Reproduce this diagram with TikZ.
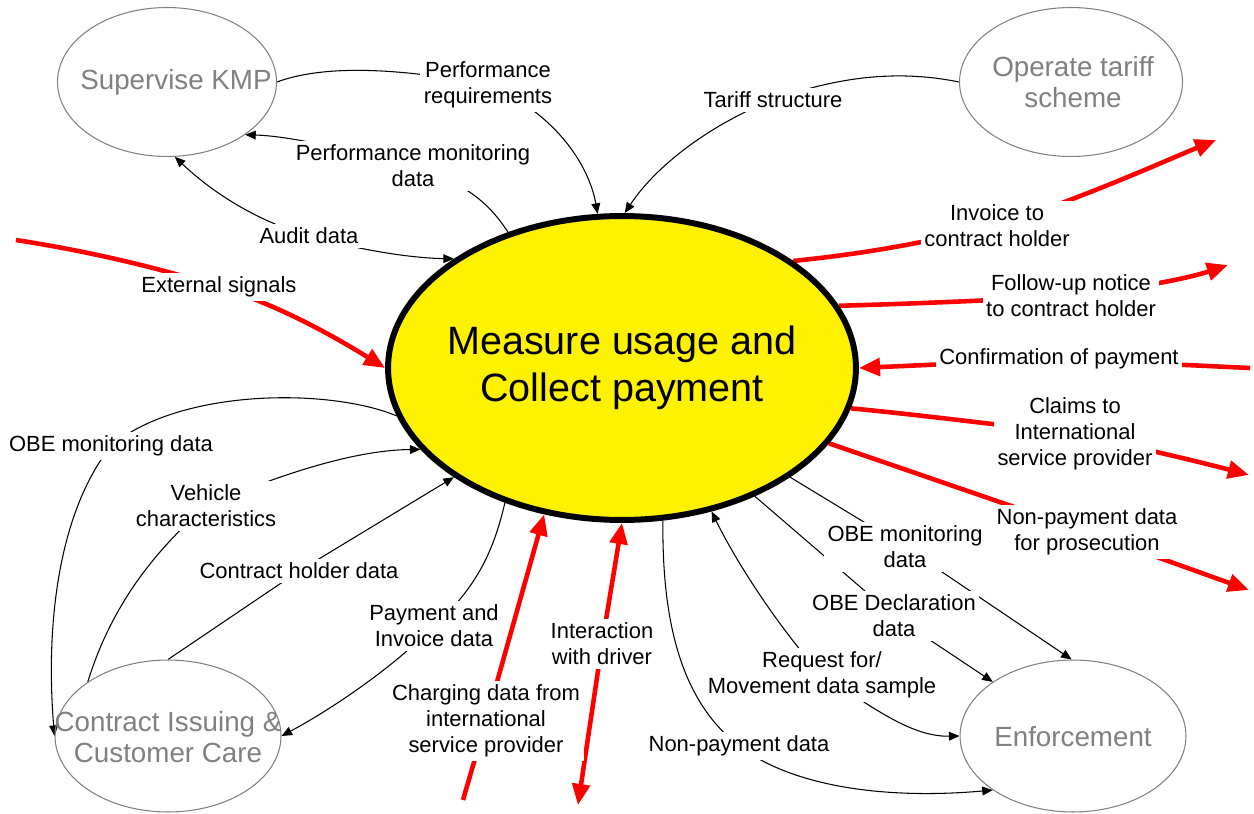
\documentclass[tikz,border=0pt]{standalone}
\usepackage{fontspec}
\setmainfont{Liberation Sans}
\usetikzlibrary{arrows.meta,shapes.geometric}
\definecolor{procgray}{RGB}{128,128,128}
\pgfdeclarelayer{edges}
\pgfsetlayers{edges,main}
\begin{document}
\begin{tikzpicture}[x=0.02cm,y=-0.02cm,
  lab/.style={fill=white, inner sep=2pt, align=center, font=\fontsize{12.5}{14.8}\selectfont},
  proc/.style={ellipse, draw=procgray, line width=0.6pt, inner sep=0pt},
  ptext/.style={text=procgray, align=center, inner sep=0pt, font=\fontsize{15.8}{17.6}\selectfont},
  maint/.style={align=center, inner sep=0pt, font=\fontsize{22.5}{27}\selectfont},
  flow/.style={draw=black, line width=0.6pt, >={Triangle[length=6pt,width=5pt]}},
  sig/.style={draw=red, line width=2.6pt, >={Triangle[length=12pt,width=10pt]}}
]
\useasboundingbox (0,0) rectangle (1254,814);

% processes
\node[proc, minimum width=4.38cm, minimum height=2.98cm] (kmp) at (167,82) {};
\node[proc, minimum width=4.46cm, minimum height=2.98cm] (op) at (1071,82) {};
\node[proc, minimum width=4.52cm, minimum height=3.04cm] (ct) at (168,736) {};
\node[proc, minimum width=4.52cm, minimum height=3.04cm] (enf) at (1073,736) {};
\node[ellipse, draw=black, fill=yellow, line width=3.4pt, inner sep=0pt,
      minimum width=9.36cm, minimum height=6.08cm] (main) at (622,368) {};

\node[ptext] (kmpT) at (176,82) {Supervise KMP};
\node[ptext] (opT) at (1073,82) {Operate tariff\\scheme};
\node[ptext] (ctT) at (168,737) {Contract Issuing \&\\Customer Care};
\node[ptext] (enfT) at (1073,737) {Enforcement};
\node[maint] (mainT) at (622,368) {Measure usage and\\Collect payment};

% labels
\node[lab] (pr) at (488,85) {Performance\\requirements};
\node[lab] (pmd) at (413,166) {Performance monitoring\\data};
\node[lab] (aud) at (309,236) {Audit data};
\node[lab] (tar) at (773,100) {Tariff structure};
\node[lab] (ext) at (219,287) {External signals};
\node[lab] (inv) at (997,226) {Invoice to\\contract holder};
\node[lab] (fol) at (1071,296) {Follow-up notice\\to contract holder};
\node[lab] (conf) at (1059,359) {Confirmation of payment};
\node[lab] (clm) at (1075,434) {Claims to\\International\\service provider};
\node[lab] (npp) at (1087,532) {Non-payment data\\for prosecution};
\node[lab] (obe2) at (905,547) {OBE monitoring\\data};
\node[lab] (obd) at (894,616) {OBE Declaration\\data};
\node[lab] (req) at (822,675) {Request for/\\Movement data sample};
\node[lab] (np) at (739,746) {Non-payment data};
\node[lab] (intr) at (602,644) {Interaction\\with driver};
\node[lab] (chg) at (486,721) {Charging data from\\international\\service provider};
\node[lab] (pay) at (434,626) {Payment and\\Invoice data};
\node[lab] (chd) at (299,571) {Contract holder data};
\node[lab] (veh) at (206,506) {Vehicle\\characteristics};
\node[lab] (obe1) at (111,446) {OBE monitoring data};

% free ends
\coordinate (invEnd) at (1216,140);
\coordinate (folEnd) at (1228,265);
\coordinate (confStart) at (1250,368);
\coordinate (clmEnd) at (1249,475);
\coordinate (nppEnd) at (1249,590);
\coordinate (intrEnd) at (578,805);
\coordinate (chgStart) at (463,800);
\coordinate (extStart) at (16,240);

\begin{pgfonlayer}{edges}
\draw[flow,->] (kmp.east) .. controls (320,66) and (390,66) .. (pr.center) .. controls (560,115) and (590,170) .. (main.99);
\draw[flow,->] (main.130) .. controls (490,205) and (470,185) .. (pmd.center) .. controls (350,150) and (290,136) .. (kmp.-34);
\draw[flow,<->] (kmp.-84) .. controls (215,195) and (260,222) .. (aud.center) .. controls (360,250) and (410,258) .. (main.147);
\draw[flow,->] (op.west) .. controls (910,72) and (850,72) .. (tar.center) .. controls (720,120) and (660,160) .. (main.89);
\draw[sig,->] (main.32) .. controls (850,255) and (900,248) .. (inv.center) .. controls (1090,195) and (1160,163) .. (invEnd);
\draw[sig,->] (main.16) .. controls (900,304) and (960,302) .. (fol.center) .. controls (1160,285) and (1195,276) .. (folEnd);
\draw[sig,->] (confStart) -- (conf.center) -- (main.0);
\draw[sig,->] (main.-10) .. controls (900,413) and (960,420) .. (clm.center) .. controls (1150,450) and (1200,462) .. (clmEnd);
\draw[sig,->] (main.-20) -- (npp.center) -- (nppEnd);
\draw[flow,->] (main.-33) -- (obe2.center) -- (enf.91);
\draw[flow,->] (main.-44) -- (obd.center) -- (enf.146);
\draw[flow,<->] (main.-58) .. controls (735,560) and (780,630) .. (req.center) .. controls (870,705) and (910,737) .. (enf.west);
\draw[flow,->] (main.-75) .. controls (662,620) and (680,700) .. (np.center) .. controls (790,785) and (880,800) .. (enf.214);
\draw[sig,<->] (main.-90) -- (intr.center) -- (intrEnd);
\draw[sig,->] (chgStart) -- (chg.center) -- (main.242);
\draw[flow,->] (main.229) .. controls (495,545) and (480,585) .. (pay.center) .. controls (390,670) and (330,710) .. (ct.east);
\draw[flow,->] (ct.north) -- (chd.center) -- (main.213);
\draw[flow,->] (ct.146) .. controls (110,610) and (150,555) .. (veh.center) .. controls (290,470) and (360,450) .. (main.202);
\draw[flow,->] (main.192) .. controls (330,388) and (180,388) .. (obe1.center) .. controls (60,510) and (45,620) .. (ct.west);
\draw[sig,->] (extStart) .. controls (80,250) and (150,265) .. (ext.center) .. controls (280,305) and (340,340) .. (main.180);
\end{pgfonlayer}
\end{tikzpicture}
\end{document}
